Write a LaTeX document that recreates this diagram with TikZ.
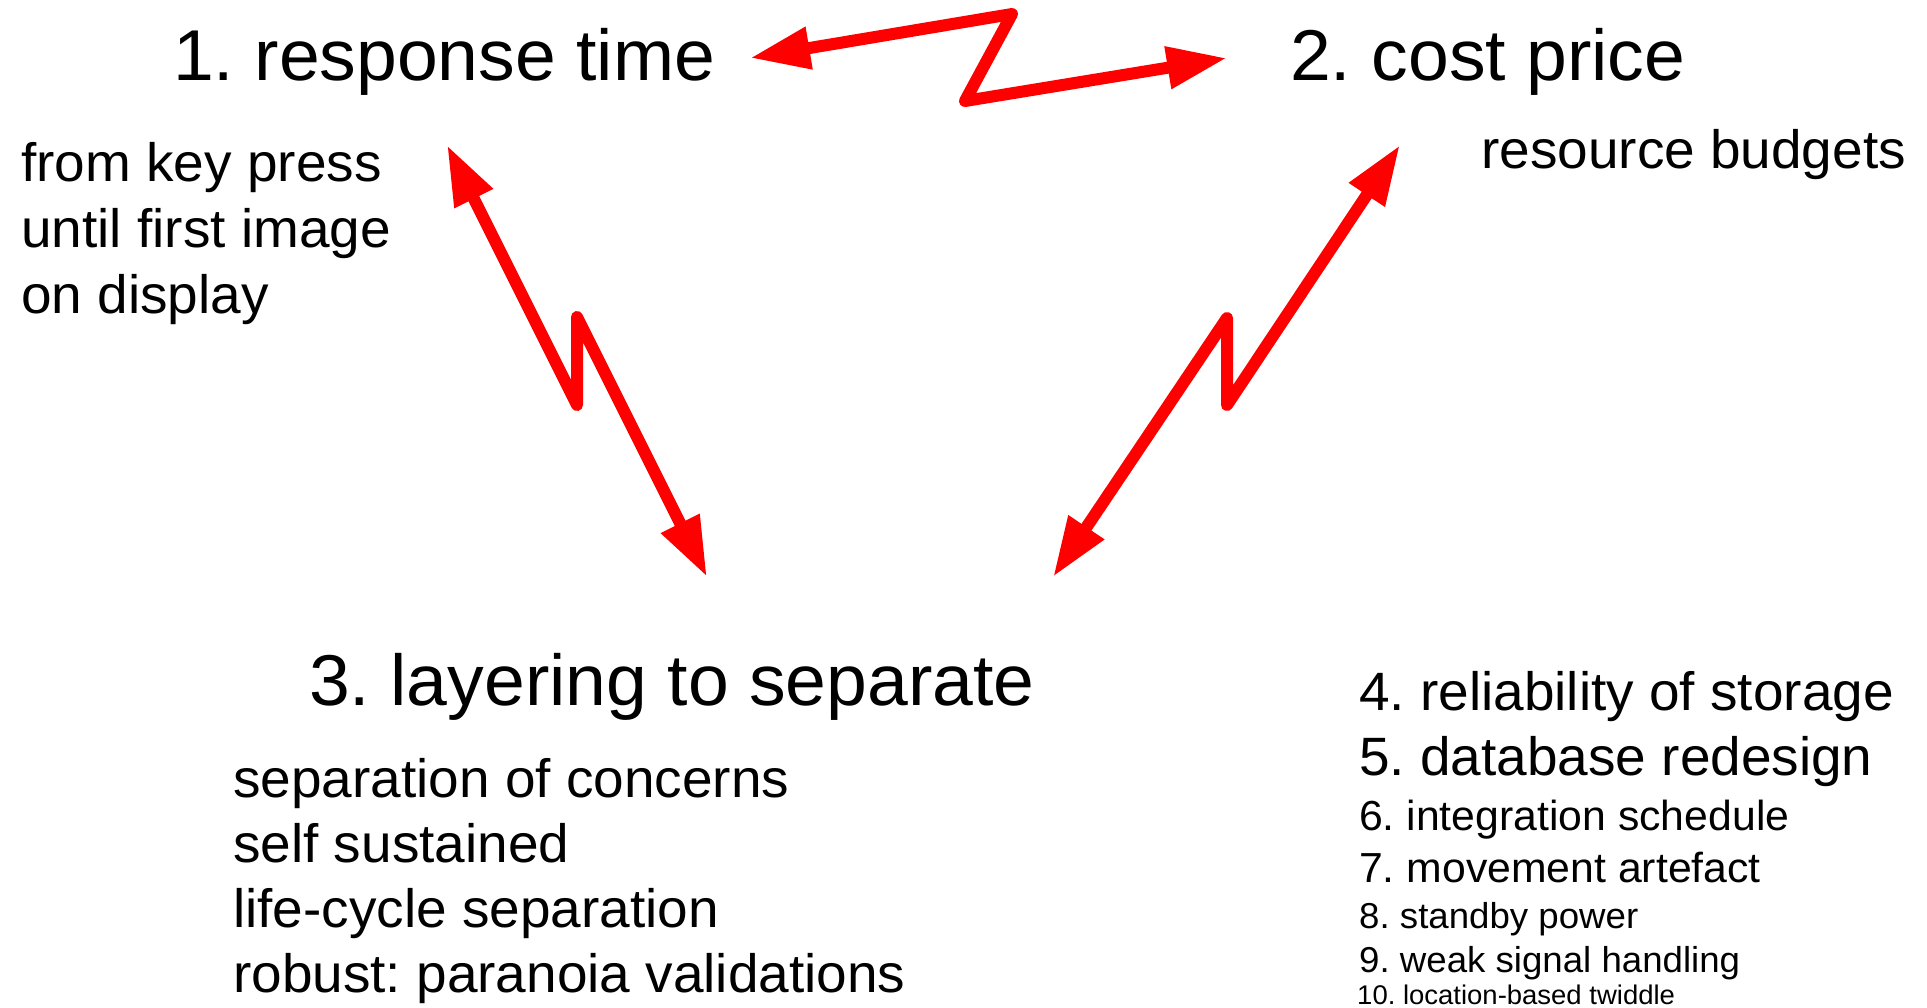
\documentclass[tikz,border=0pt]{standalone}
\usepackage{fontspec}
\setmainfont[FakeStretch=1.018]{Liberation Sans}
\frenchspacing
\usetikzlibrary{arrows.meta}

\begin{document}
\begin{tikzpicture}[x=1pt, y=-1pt]

	\tikzstyle{title_node}=[anchor=base west, inner sep=0pt, font=\fontsize{72}{86}\selectfont]
	\tikzstyle{detail_node}=[anchor=base west, inner sep=0pt, font=\fontsize{54}{65}\selectfont]
	\tikzstyle{medium_item}=[anchor=base west, inner sep=0pt, font=\fontsize{42}{50}\selectfont]
	\tikzstyle{small_item}=[anchor=base west, inner sep=0pt, font=\fontsize{36}{43}\selectfont]
	\tikzstyle{tiny_item}=[anchor=base west, inner sep=0pt, font=\fontsize{27}{32}\selectfont]
	\tikzstyle{zigzag_arrow}=[{Triangle[length=60pt, width=40pt]}-{Triangle[length=60pt, width=40pt]}, draw=red, line width=12pt, line join=round]

	\useasboundingbox (0,0) rectangle (1927,1008);

	\node[title_node] at (173, 81) (resp_title) {1. response time};
	\node[detail_node] at (21, 182) (resp_line_1) {from key press};
	\node[detail_node] at (21, 248) (resp_line_2) {until first image};
	\node[detail_node] at (21, 313) (resp_line_3) {on display};

	\node[title_node] at (1290, 81) (cost_title) {2. cost price};
	\node[detail_node] at (1481, 169) (cost_line) {resource budgets};

	\node[title_node] at (309, 705) (layer_title) {3. layering to separate};
	\node[detail_node] at (233, 797) (layer_line_1) {separation of concerns};
	\node[detail_node] at (233, 862) (layer_line_2) {self sustained};
	\node[detail_node] at (233, 927) (layer_line_3) {life-cycle separation};
	\node[detail_node] at (233, 992) (layer_line_4) {robust: paranoia validations};

	\node[detail_node] at (1359, 710) (item_4) {4. reliability of storage};
	\node[detail_node] at (1359, 775) (item_5) {5. database redesign};
	\node[medium_item] at (1359, 830) (item_6) {6. integration schedule};
	\node[medium_item] at (1359, 882) (item_7) {7. movement artefact};
	\node[small_item] at (1359, 928) (item_8) {8. standby power};
	\node[small_item] at (1359, 972) (item_9) {9. weak signal handling};
	\node[tiny_item] at (1357, 1004) (item_10) {10. location-based twiddle};

	\coordinate (resp_cost_left) at (750, 58);
	\coordinate (resp_cost_bend_1) at (1012, 14);
	\coordinate (resp_cost_bend_2) at (965, 101);
	\coordinate (resp_cost_right) at (1227, 58);

	\coordinate (resp_layer_top) at (447, 145);
	\coordinate (resp_layer_bend_1) at (577, 405);
	\coordinate (resp_layer_bend_2) at (577, 317);
	\coordinate (resp_layer_bottom) at (707, 577);

	\coordinate (cost_layer_top) at (1400, 145);
	\coordinate (cost_layer_bend_1) at (1227, 405);
	\coordinate (cost_layer_bend_2) at (1227, 318);
	\coordinate (cost_layer_bottom) at (1053, 577);

	\draw[zigzag_arrow] (resp_cost_left) -- (resp_cost_bend_1) -- (resp_cost_bend_2) -- (resp_cost_right);
	\draw[zigzag_arrow] (resp_layer_top) -- (resp_layer_bend_1) -- (resp_layer_bend_2) -- (resp_layer_bottom);
	\draw[zigzag_arrow] (cost_layer_top) -- (cost_layer_bend_1) -- (cost_layer_bend_2) -- (cost_layer_bottom);
\end{tikzpicture}
\end{document}
